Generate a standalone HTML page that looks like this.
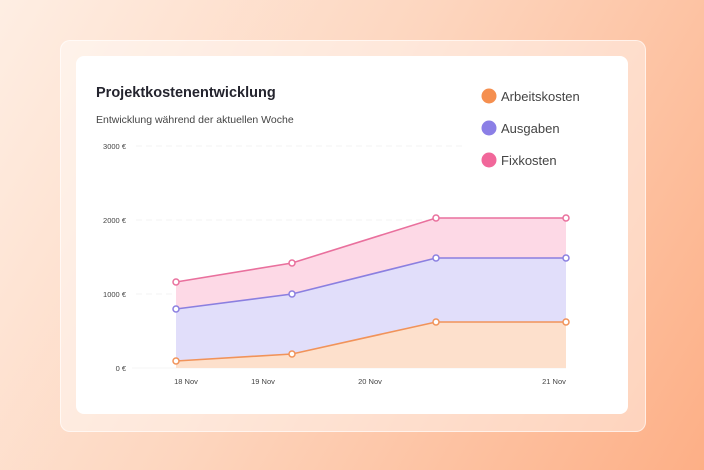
<!DOCTYPE html>
<html><head><style>
body{margin:0;width:704px;height:470px;overflow:hidden;background:linear-gradient(120deg,#feeee3 0%,#fdd6bf 45%,#fdaf86 100%);font-family:"Liberation Sans",sans-serif;position:relative}
.outer{position:absolute;left:60px;top:40px;width:584px;height:390px;border-radius:10px;background:rgba(255,255,255,0.42);border:1px solid rgba(255,255,255,0.6)}
.card{position:absolute;left:76px;top:56px;width:552px;height:358px;border-radius:8px;background:#fff}
</style></head><body>
<div class="outer"></div><div class="card"></div>
<svg width="704" height="470" style="position:absolute;left:0;top:0" font-family="Liberation Sans, sans-serif">
<text x="96" y="97" font-size="14.5" font-weight="bold" fill="#24242e">Projektkostenentwicklung</text>
<text x="96" y="123" font-size="10.5" fill="#444">Entwicklung während der aktuellen Woche</text>
<g font-size="13" fill="#444">
<circle cx="489" cy="96" r="7.5" fill="#f58f4f"/><text x="501" y="101">Arbeitskosten</text>
<circle cx="489" cy="128" r="7.5" fill="#8b7fe6"/><text x="501" y="133">Ausgaben</text>
<circle cx="489" cy="160" r="7.5" fill="#f1679a"/><text x="501" y="165">Fixkosten</text>
</g>
<g stroke="#f3f3f3" stroke-dasharray="6 4"><line x1="136" y1="146" x2="464" y2="146"/><line x1="136" y1="220" x2="560" y2="220"/><line x1="136" y1="294" x2="560" y2="294"/></g>
<line x1="132" y1="368" x2="566" y2="368" stroke="#f4f4f4"/>
<g font-size="7.5" fill="#444" text-anchor="end"><text x="126" y="149">3000 €</text><text x="126" y="223">2000 €</text><text x="126" y="297">1000 €</text><text x="126" y="371">0 €</text></g>
<g font-size="7.5" fill="#444" text-anchor="middle"><text x="186" y="384">18 Nov</text><text x="263" y="384">19 Nov</text><text x="370" y="384">20 Nov</text><text x="554" y="384">21 Nov</text></g>
<polygon points="176,282 292,263 436,218 566,218 566,258 436,258 292,294 176,309" fill="#fdd9e6"/>
<polygon points="176,309 292,294 436,258 566,258 566,322 436,322 292,354 176,361" fill="#e1defa"/>
<polygon points="176,361 292,354 436,322 566,322 566,368 176,368" fill="#fde0cc"/>
<g fill="none" stroke-width="1.6">
<polyline points="176,282 292,263 436,218 566,218" stroke="#e9709d"/>
<polyline points="176,309 292,294 436,258 566,258" stroke="#8b7fe0"/>
<polyline points="176,361 292,354 436,322 566,322" stroke="#f1935a"/>
</g>
<g fill="#fff" stroke-width="1.5">
<g stroke="#e9709d"><circle cx="176" cy="282" r="3"/><circle cx="292" cy="263" r="3"/><circle cx="436" cy="218" r="3"/><circle cx="566" cy="218" r="3"/></g>
<g stroke="#8b7fe0"><circle cx="176" cy="309" r="3"/><circle cx="292" cy="294" r="3"/><circle cx="436" cy="258" r="3"/><circle cx="566" cy="258" r="3"/></g>
<g stroke="#f1935a"><circle cx="176" cy="361" r="3"/><circle cx="292" cy="354" r="3"/><circle cx="436" cy="322" r="3"/><circle cx="566" cy="322" r="3"/></g>
</g>
</svg>
</body></html>
